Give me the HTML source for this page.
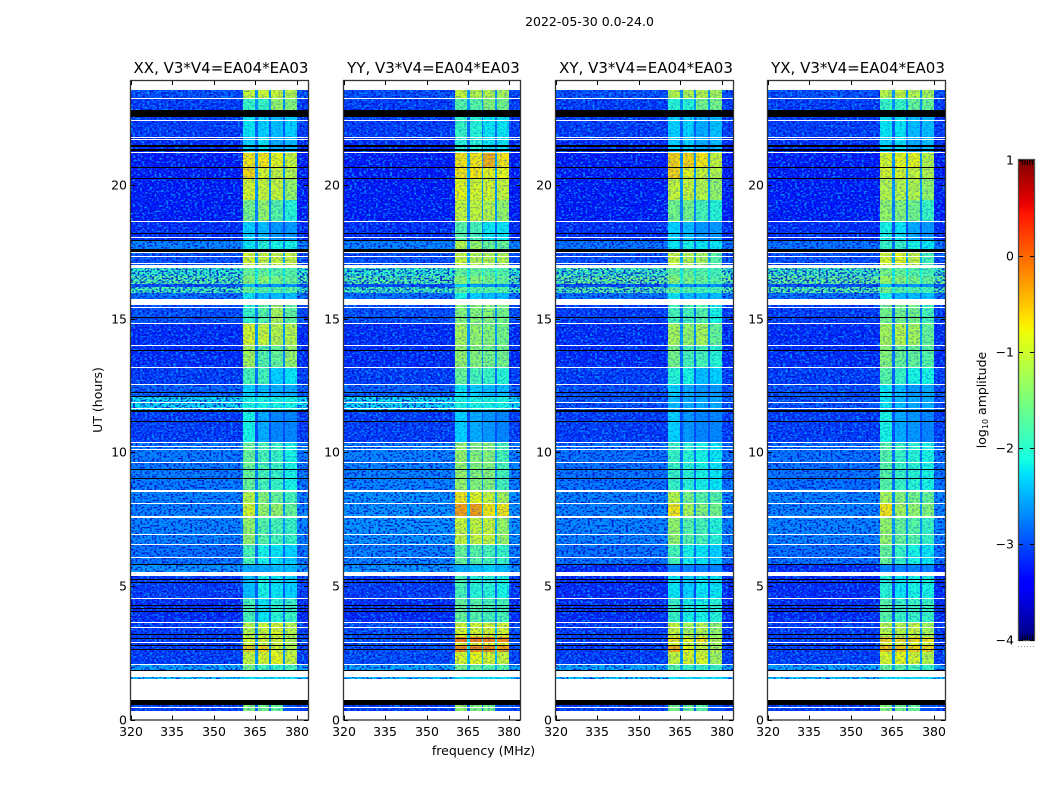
<!DOCTYPE html>
<html lang="en">
<head>
<meta charset="utf-8">
<title>2022-05-30 dynamic spectra</title>
<style>
html,body{margin:0;padding:0;background:#fff;}
svg{display:block;font-family:"DejaVu Sans","Liberation Sans",sans-serif;fill:#000;}
</style>
</head>
<body>
<svg id="figure" xmlns="http://www.w3.org/2000/svg" width="1050" height="800" viewBox="0 0 1050 800">
  <defs>
    <filter id="speckLight" filterUnits="objectBoundingBox" x="0" y="0" width="1" height="1" color-interpolation-filters="sRGB">
      <feTurbulence type="fractalNoise" baseFrequency="0.42 0.55" numOctaves="1" seed="4"/>
      <feColorMatrix type="matrix" values="0 0 0 0 0  0 0 0 0 0.62  0 0 0 0 1  6 0 0 0 -2.9"/>
    </filter>
    <filter id="speckDark" filterUnits="objectBoundingBox" x="0" y="0" width="1" height="1" color-interpolation-filters="sRGB">
      <feTurbulence type="fractalNoise" baseFrequency="0.42 0.55" numOctaves="1" seed="11"/>
      <feColorMatrix type="matrix" values="0 0 0 0 0  0 0 0 0 0.05  0 0 0 0 0.8  6 0 0 0 -2.9"/>
    </filter>
  </defs>
  <text x="589.5" y="26" font-size="12.5" text-anchor="middle">2022-05-30 0.0-24.0</text>
  <text x="483.5" y="755" font-size="12.5" text-anchor="middle">frequency (MHz)</text>
  <text x="0" y="0" font-size="12.5" text-anchor="middle" transform="translate(102,400) rotate(-90)">UT (hours)</text>
  <text x="0" y="0" font-size="12.5" text-anchor="middle" transform="translate(986,400) rotate(-90)">log<tspan font-size="8" dy="2">10</tspan><tspan dy="-2"> amplitude</tspan></text>
</svg>
<script>
// ---- data (log10 amplitude, hours, MHz) ----
const polNames = ['XX, V3*V4=EA04*EA03','YY, V3*V4=EA04*EA03','XY, V3*V4=EA04*EA03','YX, V3*V4=EA04*EA03'];
const xTicks = [320,335,350,365,380];
const yTicks = [0,5,10,15,20];
const colorTicks = [1,0,-1,-2,-3,-4];
const colorTickLabels = ['1','0','\u22121','\u22122','\u22123','\u22124'];
const colorMinorTicks = [1022.5,1025,1027.5,1030,1032.5];
// channel group edges in MHz: background, band1, gap, band2, gap, band3, gap, band4, edge
const freqEdges = [320,360.5,364.8,365.9,370,370.6,375,375.7,380,384];
// time-row edges in hours (descending)
const rowEdges = [23.58,23.28,22.57,21.82,21.25,20.69,20.28,19.46,18.67,17.96,17.62,17.02,16.61,16.31,16.2,15.97,15.75,14.85,14.03,13.2,12.57,12.12,11.52,10.39,8.6,8.11,7.62,6.57,5.82,5.37,4.55,3.65,3.08,2.9,2.79,2.53,2.08,1.82,1.52,0.55,0.32];
// each row: background, band1, band2, band3, band4, gap
const levelsXX = [
[-3.0,-1.0,-1.0,-1.0,-1.1,-2.6],[-3.1,-1.9,-1.9,-1.3,-1.4,-2.6],[-3.1,-2.2,-2.3,-2.4,-2.3,-2.9],[-3.2,-2.3,-2.2,-2.5,-2.4,-2.9],
[-3.3,-0.7,-0.7,-0.8,-1.0,-2.6],[-3.3,-0.6,-0.9,-1.0,-1.1,-2.6],[-3.3,-0.9,-1.0,-1.0,-1.3,-2.6],[-3.3,-1.5,-1.3,-1.7,-2.0,-2.7],
[-3.2,-2.3,-2.4,-2.6,-2.6,-3.0],[-2.7,-2.2,-2.0,-2.1,-2.1,-2.7],[-3.0,-0.9,-1.0,-1.0,-1.0,-2.5],[-1.9,-1.6,-1.6,-1.7,-1.7,-2.1],
[-1.7,-1.4,-1.4,-1.5,-1.6,-2.0],[-3.0,-2.4,-2.6,-2.6,-2.6,-3.0],[-1.8,-1.6,-1.7,-1.7,-1.7,-2.0],[-2.8,-2.2,-2.4,-2.4,-2.4,-2.8],
[-3.0,-1.9,-1.7,-1.2,-1.6,-2.7],[-3.2,-0.9,-1.0,-1.1,-1.1,-2.6],[-3.2,-1.2,-1.7,-1.6,-1.3,-2.7],[-3.1,-1.8,-1.8,-2.3,-2.2,-2.8],
[-2.9,-2.3,-2.4,-2.5,-2.5,-2.9],[-2.2,-2.1,-2.1,-2.1,-2.1,-2.3],[-3.1,-2.1,-2.5,-2.7,-2.7,-3.0],[-2.75,-1.6,-1.8,-1.9,-2.1,-2.7],
[-2.7,-1.1,-1.4,-1.6,-1.8,-2.6],[-2.7,-0.9,-1.3,-1.3,-1.6,-2.6],[-2.7,-1.3,-1.7,-1.8,-1.9,-2.6],[-2.8,-1.8,-2.1,-2.2,-2.3,-2.8],
[-2.6,-2.5,-2.5,-2.4,-2.4,-2.6],[-3.1,-2.4,-2.1,-2.2,-2.3,-2.9],[-3.2,-1.8,-2.2,-2.0,-1.9,-2.8],[-3.1,-1.1,-1.0,-0.9,-1.1,-2.6],
[-3.1,-0.9,-0.9,-0.9,-1.1,-2.6],[-3.1,-1.0,-1.0,-1.0,-1.1,-2.6],[-3.1,-0.6,-0.6,-0.9,-1.1,-2.6],[-3.1,-1.0,-0.9,-0.8,-1.0,-2.6],
[-2.5,-1.5,-1.8,-1.9,-1.8,-2.5],[-2.3,-2.2,-2.2,-2.2,-2.2,-2.3],[-3.2,-3.2,-3.2,-3.2,-3.2,-3.2],[-3.1,-1.4,-1.5,-1.6,-3.0,-2.9]
];
const levelsYY = [
[-3.0,-1.0,-1.1,-1.1,-1.2,-2.6],[-3.1,-1.7,-1.7,-1.4,-1.5,-2.6],[-3.1,-1.9,-2.0,-2.2,-2.2,-2.8],[-3.2,-2.0,-2.0,-2.2,-2.2,-2.8],
[-3.3,-0.7,-0.7,-0.4,-0.7,-2.5],[-3.3,-0.7,-0.7,-0.8,-0.8,-2.5],[-3.3,-0.8,-0.9,-0.9,-1.0,-2.6],[-3.3,-1.0,-1.0,-1.1,-1.3,-2.6],
[-3.2,-1.7,-1.8,-2.2,-2.2,-2.8],[-2.7,-1.1,-1.3,-1.6,-1.6,-2.6],[-3.0,-1.0,-1.1,-1.1,-1.1,-2.5],[-1.9,-1.6,-1.6,-1.7,-1.7,-2.1],
[-1.7,-1.4,-1.4,-1.5,-1.6,-2.0],[-3.0,-2.3,-2.5,-2.6,-2.6,-3.0],[-1.8,-1.6,-1.7,-1.7,-1.7,-2.0],[-2.8,-2.1,-2.3,-2.4,-2.4,-2.8],
[-3.0,-1.4,-1.4,-1.4,-1.5,-2.6],[-3.2,-1.2,-1.3,-1.4,-1.5,-2.6],[-3.2,-1.3,-1.4,-1.5,-1.5,-2.6],[-3.1,-1.6,-1.8,-1.9,-2.0,-2.8],
[-2.9,-2.2,-2.3,-2.4,-2.4,-2.9],[-2.2,-2.1,-2.1,-2.1,-2.1,-2.3],[-3.1,-2.3,-2.5,-2.6,-2.7,-3.0],[-2.7,-1.3,-1.4,-1.4,-1.8,-2.6],
[-2.6,-0.7,-0.8,-1.0,-1.2,-2.5],[-2.6,-0.3,-0.3,-0.7,-0.7,-2.4],[-2.6,-1.0,-1.0,-1.0,-1.3,-2.5],[-2.7,-1.6,-1.7,-1.8,-1.9,-2.7],
[-2.6,-2.5,-2.4,-2.3,-2.4,-2.6],[-3.1,-1.8,-2.0,-2.0,-2.1,-2.9],[-3.2,-1.6,-1.7,-1.8,-1.8,-2.7],[-3.0,-0.9,-0.9,-0.9,-0.9,-2.4],
[-3.0,-0.1,-0.1,-0.1,-0.2,-2.2],[-3.0,-0.8,-0.8,-0.8,-0.8,-2.4],[-3.0,-0.2,-0.2,-0.2,-0.3,-2.2],[-3.0,-0.9,-0.8,-0.9,-1.0,-2.4],
[-2.5,-1.5,-1.6,-1.7,-1.7,-2.5],[-2.3,-2.2,-2.2,-2.2,-2.2,-2.3],[-3.2,-3.2,-3.2,-3.2,-3.2,-3.2],[-3.1,-1.3,-1.4,-1.5,-3.0,-2.9]
];
const levelsXY = [
[-3.0,-1.1,-1.1,-1.1,-1.2,-2.6],[-3.1,-2.0,-2.0,-1.5,-1.5,-2.6],[-3.1,-2.3,-2.3,-2.5,-2.4,-2.9],[-3.2,-2.3,-2.3,-2.5,-2.4,-2.9],
[-3.3,-0.6,-0.6,-0.7,-1.0,-2.6],[-3.3,-0.6,-0.8,-1.0,-1.1,-2.6],[-3.3,-1.0,-1.0,-1.1,-1.3,-2.6],[-3.3,-1.5,-1.5,-1.8,-2.0,-2.7],
[-3.2,-2.3,-2.4,-2.6,-2.6,-3.0],[-2.8,-2.2,-2.1,-2.2,-2.2,-2.8],[-3.0,-1.0,-1.1,-1.2,-1.7,-2.5],[-1.8,-1.6,-1.6,-1.7,-1.8,-2.1],
[-1.6,-1.4,-1.5,-1.6,-1.7,-2.0],[-3.0,-2.4,-2.6,-2.6,-2.6,-3.0],[-1.7,-1.6,-1.7,-1.8,-1.8,-2.0],[-2.8,-2.2,-2.4,-2.4,-2.4,-2.8],
[-3.1,-1.8,-1.8,-1.7,-2.1,-2.8],[-3.2,-1.2,-1.3,-1.2,-1.6,-2.6],[-3.2,-1.5,-1.8,-1.8,-2.0,-2.8],[-3.1,-2.0,-2.1,-2.4,-2.3,-2.9],
[-3.0,-2.3,-2.5,-2.6,-2.6,-3.0],[-3.0,-2.4,-2.5,-2.5,-2.5,-3.0],[-3.1,-2.3,-2.6,-2.7,-2.7,-3.0],[-2.8,-1.9,-2.0,-2.1,-2.2,-2.8],
[-2.7,-1.1,-1.5,-1.7,-1.7,-2.6],[-2.7,-0.7,-1.2,-1.4,-1.5,-2.6],[-2.7,-1.3,-1.7,-1.8,-2.0,-2.6],[-2.8,-1.8,-2.1,-2.2,-2.3,-2.8],
[-3.2,-2.7,-2.7,-2.7,-2.7,-3.1],[-3.2,-2.2,-2.3,-2.2,-2.2,-3.0],[-3.2,-1.9,-2.1,-2.1,-2.0,-2.9],[-3.1,-1.0,-1.2,-1.1,-1.3,-2.6],
[-3.1,-0.7,-0.8,-0.7,-1.1,-2.6],[-3.1,-1.0,-1.1,-1.0,-1.2,-2.6],[-3.1,-0.4,-0.8,-1.0,-1.2,-2.6],[-3.1,-1.0,-0.9,-0.9,-1.2,-2.6],
[-2.5,-1.7,-1.9,-1.9,-1.9,-2.5],[-2.3,-2.2,-2.2,-2.2,-2.2,-2.3],[-3.2,-3.2,-3.2,-3.2,-3.2,-3.2],[-3.1,-1.5,-1.6,-1.7,-3.0,-2.9]
];
const levelsYX = [
[-3.0,-1.1,-1.0,-1.1,-1.2,-2.6],[-3.1,-1.9,-1.9,-1.6,-1.6,-2.6],[-3.1,-2.2,-2.2,-2.4,-2.4,-2.9],[-3.2,-2.3,-2.2,-2.5,-2.4,-2.9],
[-3.3,-0.9,-0.8,-0.8,-1.1,-2.6],[-3.3,-0.9,-0.9,-1.0,-1.1,-2.6],[-3.3,-1.1,-1.1,-1.1,-1.3,-2.6],[-3.3,-1.3,-1.4,-1.5,-1.9,-2.7],
[-3.2,-2.1,-2.2,-2.5,-2.6,-3.0],[-2.8,-1.9,-1.9,-2.1,-2.2,-2.8],[-3.0,-0.9,-0.8,-1.0,-1.8,-2.5],[-1.8,-1.5,-1.6,-1.7,-1.8,-2.1],
[-1.6,-1.3,-1.4,-1.5,-1.6,-2.0],[-3.0,-2.3,-2.6,-2.6,-2.6,-3.0],[-1.7,-1.5,-1.7,-1.7,-1.8,-2.0],[-2.8,-2.1,-2.4,-2.4,-2.4,-2.8],
[-3.1,-1.5,-1.5,-1.5,-1.8,-2.8],[-3.2,-1.2,-1.1,-1.2,-1.6,-2.6],[-3.2,-1.4,-1.6,-1.6,-1.7,-2.8],[-3.1,-1.7,-1.9,-2.1,-2.1,-2.9],
[-3.0,-2.2,-2.4,-2.6,-2.5,-3.0],[-3.0,-2.2,-2.4,-2.5,-2.5,-3.0],[-3.1,-2.1,-2.5,-2.6,-2.7,-3.0],[-2.8,-1.7,-1.9,-2.0,-2.1,-2.8],
[-2.7,-1.2,-1.4,-1.5,-1.6,-2.6],[-2.7,-0.7,-1.2,-1.3,-1.4,-2.6],[-2.7,-1.3,-1.6,-1.7,-1.9,-2.6],[-2.8,-1.6,-1.9,-2.1,-2.2,-2.8],
[-3.2,-2.7,-2.7,-2.7,-2.7,-3.1],[-3.2,-2.0,-2.2,-2.1,-2.1,-3.0],[-3.2,-1.7,-1.9,-1.9,-1.9,-2.9],[-3.1,-1.1,-1.1,-1.0,-1.2,-2.6],
[-3.1,-0.6,-0.6,-0.6,-0.7,-2.6],[-3.1,-0.9,-0.9,-0.9,-1.0,-2.6],[-3.1,-0.5,-0.5,-0.6,-0.6,-2.6],[-3.1,-0.9,-0.8,-0.9,-1.1,-2.6],
[-2.5,-1.6,-1.7,-1.8,-1.9,-2.5],[-2.3,-2.2,-2.2,-2.2,-2.2,-2.3],[-3.2,-3.2,-3.2,-3.2,-3.2,-3.2],[-3.1,-1.4,-1.5,-1.6,-3.0,-2.9]
];
// flagged integrations, in hours (thin lines: the hour of the upper edge)
const whiteLines = [23.28,22.45,21.82,21.72,21.25,18.67,18.07,17.51,17.36,17.10,15.45,14.85,14.03,13.20,12.57,11.89,11.67,10.39,10.24,10.13,9.64,8.11,6.95,6.57,6.09,4.55,3.65,3.46,2.90,2.08,0.47];
const whiteBands = [[23.9,23.58],[17.02,16.91],[15.75,15.52],[8.6,8.5],[7.62,7.55],[5.52,5.37],[1.82,1.59],[1.52,0.73],[0.32,0]];
const blackLines = [20.69,20.28,18.22,17.96,15.07,13.84,12.27,12.12,11.18,9.38,9.04,5.82,5.26,5.15,4.29,4.18,4.06,3.2,3.05,2.79,2.64];
const blackBands = [[22.83,22.57],[21.52,21.44],[21.37,21.29],[17.62,17.51],[11.59,11.52],[1.85,1.82],[0.73,0.55]];

// ---- layout ----
const panelLeft = [131,344,556,768];
const panelWidth = [177,176,177,177];
const panelLevels = [levelsXX,levelsYY,levelsXY,levelsYX];
const plotTop = 81, plotBottom = 719.5;
const freqMin = 320, freqMax = 384, hourMax = 23.9;
const NS = 'http://www.w3.org/2000/svg';
const fig = document.getElementById('figure');

function yScale(h){ return plotBottom - (h/hourMax)*(plotBottom-plotTop); }
function xScale(p,f){ return panelLeft[p] + (f-freqMin)/(freqMax-freqMin)*panelWidth[p]; }
function seg(v,pts){
  for(let i=1;i<pts.length;i++){
    if(v<=pts[i][0]){
      const a=pts[i-1],b=pts[i];
      return a[1]+(b[1]-a[1])*(v-a[0])/(b[0]-a[0]);
    }
  }
  return pts[pts.length-1][1];
}
function jet(logAmp){
  const t=Math.min(1,Math.max(0,(logAmp+4)/5));
  const r=seg(t,[[0,0],[.35,0],[.66,1],[.89,1],[1,.5]]);
  const g=seg(t,[[0,0],[.125,0],[.375,1],[.64,1],[.91,0],[1,0]]);
  const b=seg(t,[[0,.5],[.11,1],[.34,1],[.65,0],[1,0]]);
  return 'rgb('+Math.round(r*255)+','+Math.round(g*255)+','+Math.round(b*255)+')';
}
function mk(tag,attrs,parent){
  const el=document.createElementNS(NS,tag);
  for(const k in attrs){ el.setAttribute(k,attrs[k]); }
  (parent||fig).appendChild(el);
  return el;
}
function tickLine(x1,y1,x2,y2,parent){
  const el=mk('line',{x1:x1,y1:y1,x2:x2,y2:y2,stroke:'#000','stroke-width':1},parent);
  
  
}

polNames.forEach(function(name,p){
  const g=mk('g',{});
  
  
  const left=panelLeft[p], right=left+panelWidth[p];

  const heat=mk('g',{'shape-rendering':'crispEdges'},g);
  
  
  const table=panelLevels[p];
  const colMap=[0,1,5,2,5,3,5,4,0];
  table.forEach(function(row,r){
    const y0=Math.round(yScale(rowEdges[r]));
    const y1=Math.round(yScale(rowEdges[r+1]));
    for(let c=0;c<colMap.length;c++){
      const x0=Math.round(xScale(p,freqEdges[c]));
      const x1=Math.round(xScale(p,freqEdges[c+1]));
      const cell=mk('rect',{x:x0,y:y0,width:x1-x0,height:y1-y0,fill:jet(row[colMap[c]])},heat);
      
      
    }
  });

  // speckle texture over the background channels
  const tex=mk('g',{},g);
  
  
  const tx=Math.round(xScale(p,freqEdges[1]));
  const ex=Math.round(xScale(p,freqEdges[8]));
  [[left,tx-left,.85],[ex,right-ex,.85],[tx,ex-tx,.25]].forEach(function(a){
    mk('rect',{x:a[0],y:plotTop,width:a[1],height:plotBottom-plotTop,filter:'url(#speckLight)',opacity:a[2]},tex);
    mk('rect',{x:a[0],y:plotTop,width:a[1],height:plotBottom-plotTop,filter:'url(#speckDark)',opacity:a[2]},tex);
  });

  // flagged rows
  const flags=mk('g',{'shape-rendering':'crispEdges'},g);
  
  
  function strip(h0,h1,color){
    const y0=Math.round(yScale(h0));
    const y1=Math.round(yScale(h1));
    const el=mk('rect',{x:left,y:y0,width:panelWidth[p],height:Math.max(1,y1-y0),fill:color},flags);
    
    
  }
  whiteBands.forEach(function(b){ strip(b[0],b[1],'#fff'); });
  whiteLines.forEach(function(h){ strip(h,h,'#fff'); });
  blackBands.forEach(function(b){ strip(b[0],b[1],'#000'); });
  blackLines.forEach(function(h){ strip(h,h,'#000'); });

  // frame
  const frame=mk('rect',{x:left-.5,y:plotTop-.5,width:panelWidth[p]+1,height:plotBottom-plotTop+1,fill:'none',stroke:'#000','stroke-opacity':.8,'stroke-width':1.3},g);
  
  

  // ticks
  xTicks.forEach(function(f){
    const x=Math.round(xScale(p,f))+.5;
    tickLine(x,plotBottom,x,plotBottom-4,g);
    tickLine(x,plotTop,x,plotTop+4,g);
    const t=mk('text',{x:x-.5,y:736,'font-size':12.5,'text-anchor':'middle'},g);
    t.textContent=f;
    
    
  });
  yTicks.forEach(function(h){
    const y=Math.round(yScale(h))+.5;
    tickLine(left,y,left+4,y,g);
    tickLine(right,y,right-4,y,g);
    const t=mk('text',{x:left-4,y:y+4,'font-size':12.5,'text-anchor':'end'},g);
    t.textContent=h;
    
    
  });

  const title=mk('text',{x:left+panelWidth[p]/2+1.5,y:73,'font-size':15,'text-anchor':'middle'},g);
  title.textContent=name;
  
  
});

// ---- colorbar ----
const cbX=1019, cbW=15, cbTop=160, cbBottom=640, cbMax=1, cbMin=-4;
function cbScale(v){ return cbTop+(cbMax-v)/(cbMax-cbMin)*(cbBottom-cbTop); }
const cb=mk('g',{});


const cbGrad=mk('g',{'shape-rendering':'crispEdges'},cb);


for(let y=cbTop;y<cbBottom;y+=2){
  const v=cbMax-(y+1-cbTop)/(cbBottom-cbTop)*(cbMax-cbMin);
  mk('rect',{x:cbX,y:y,width:cbW,height:2,fill:jet(v)},cbGrad);
}
const cbFrame=mk('rect',{x:cbX-.5,y:cbTop-.5,width:cbW+1,height:cbBottom-cbTop+1,fill:'none',stroke:'#000','stroke-opacity':.7,'stroke-width':1.3},cb);


colorTicks.forEach(function(v,i){
  const y=Math.round(cbScale(v))+.5;
  tickLine(cbX,y,cbX+4,y,cb);
  tickLine(cbX+cbW,y,cbX+cbW-4,y,cb);
  const t=mk('text',{x:cbX-5,y:y+4,'font-size':12.5,'text-anchor':'end'},cb);
  t.textContent=colorTickLabels[i];
  
  
});
colorMinorTicks.forEach(function(x){
  tickLine(x,cbTop,x,cbTop+5,cb);
  tickLine(x,cbBottom,x,cbBottom-5,cb);
});
const dots=mk('line',{x1:1018,y1:646.5,x2:1035,y2:646.5,stroke:'#999','stroke-width':1,'stroke-dasharray':'1 2'},cb);


</script>
</body>
</html>
